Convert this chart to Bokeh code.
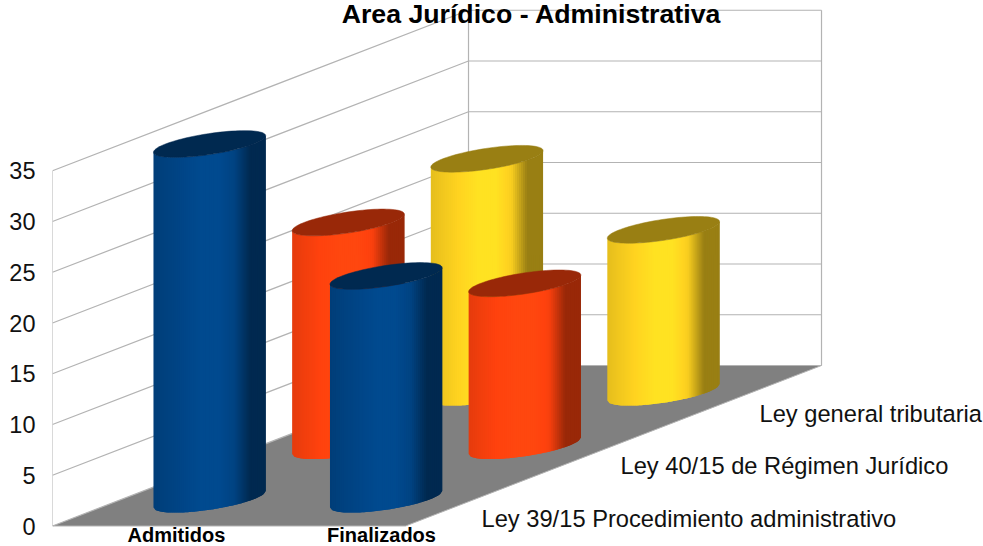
import numpy as np
from bokeh.plotting import figure
from bokeh.models import Range1d, FixedTicker
from bokeh.core.properties import value as V
from bokeh.embed import file_html
from bokeh.resources import INLINE

# ---- data
categories = ["Admitidos", "Finalizados"]
series_names = ["Ley 39/15 Procedimiento administrativo",
                "Ley 40/15 de Régimen Jurídico",
                "Ley general tributaria"]
ley_39 = [35, 22]
ley_40 = [22, 16]
ley_gen = [23, 16]
y_ticks = [0, 5, 10, 15, 20, 25, 30, 35]
colors = ["#004586", "#ff420e", "#ffd320"]
title_text = "Area Jurídico - Administrativa"

series_values = [ley_39, ley_40, ley_gen]

# ---- oblique projection of (category, depth, value) to plot coordinates
X0, CAT_W, DEPTH_X = 52.0, 176.5, 138.67
PX_PER_UNIT, DEPTH_Y = 10.15, 53.5 / 10.15
Y_MAX_AXIS = 35
N_DEPTH = 3
W, H = 983, 546
ZERO_PX = 525.5


def px(c, d):
    return X0 + CAT_W * np.asarray(c) + DEPTH_X * np.asarray(d)


def py(d, v):
    return np.asarray(v) + DEPTH_Y * np.asarray(d)


p = figure(width=W, height=H, output_backend="svg", toolbar_location=None,
           x_range=Range1d(X0, W),
           y_range=Range1d((ZERO_PX - H) / PX_PER_UNIT, ZERO_PX / PX_PER_UNIT),
           min_border_left=int(X0), min_border_right=0, min_border_top=0, min_border_bottom=0,
           margin=(0, 0, 0, 0), x_axis_location=None, outline_line_color=None,
           background_fill_color="white", border_fill_color="white")
p.grid.visible = False
p.yaxis.ticker = FixedTicker(ticks=y_ticks)
p.yaxis.axis_line_color = None
p.yaxis.major_tick_line_color = None
p.yaxis.minor_tick_line_color = None
p.yaxis.major_tick_out = 0
p.yaxis.major_tick_in = 0
p.yaxis.minor_tick_out = 0
p.yaxis.minor_tick_in = 0
p.yaxis.major_label_standoff = 17
p.yaxis.major_label_text_font = "Liberation Sans"
p.yaxis.major_label_text_font_size = "23.5px"
p.yaxis.major_label_text_color = "#111111"

WALL = "#b3b3b3"
# floor
p.patch(px([0, 2, 2, 0], [0, 0, N_DEPTH, N_DEPTH]), py([0, 0, N_DEPTH, N_DEPTH], [0, 0, 0, 0]),
        fill_color="#808080", line_color=None)
# walls and grid
for t in y_ticks:
    p.line(px([0, 0, 2], [0, N_DEPTH, N_DEPTH]), py([0, N_DEPTH, N_DEPTH], [t, t, t]),
           line_color=WALL, line_width=1.2)
p.line(px([0, 0], [0, 0]), py([0, 0], [0, Y_MAX_AXIS]), line_color=WALL, line_width=1)
p.line(px([0, 0], [N_DEPTH, N_DEPTH]), py([N_DEPTH, N_DEPTH], [0, Y_MAX_AXIS]), line_color=WALL, line_width=1.2)
p.line(px([2, 2], [N_DEPTH, N_DEPTH]), py([N_DEPTH, N_DEPTH], [0, Y_MAX_AXIS]), line_color=WALL, line_width=1.2)
p.line(px([0, 2, 2], [0, 0, N_DEPTH]), py([0, 0, N_DEPTH], [0, 0, 0]), line_color=WALL, line_width=1)

# cylinders
R_C, R_D = 0.25, 0.25
A, B, C = CAT_W * R_C, DEPTH_X * R_D, 53.5 * R_D / PX_PER_UNIT
T_R = np.arctan2(B, A)
N_STRIP = 56
STOPS_F = [0.0, 0.12, 0.42, 0.58, 0.72, 0.86, 1.0]
STOPS_M = [0.90, 0.95, 1.07, 1.07, 0.97, 0.60, 0.60]


def shade(hexcol, m):
    rgb = [int(hexcol[i:i + 2], 16) for i in (1, 3, 5)]
    return "#%02x%02x%02x" % tuple(min(255, int(round(ch * m))) for ch in rgb)


def ellipse(cx, cy, t):
    return cx + A * np.cos(t) + B * np.sin(t), cy + C * np.sin(t)


for d_idx in reversed(range(len(series_values))):
    for c_idx, val in enumerate(series_values[d_idx]):
        d = d_idx + 0.5
        cx = float(px(c_idx + 0.5, d)) - 0.5
        cy = float(py(d, 0))
        half = float(np.hypot(A, B))
        xs_grid = np.linspace(cx - half, cx + half, N_STRIP + 1)
        ang = np.arccos(np.clip((xs_grid - cx) / half, -1, 1))  # pi..0
        ts = T_R - ang  # runs from the left extreme through the front to the right extreme
        ex, ey = ellipse(cx, cy, ts)
        xs, ys, fills = [], [], []
        for i in range(N_STRIP):
            j = min(i + 2, N_STRIP)  # overlap the next strip so no seams show
            xs.append(list(ex[i:j + 1]) + list(ex[i:j + 1][::-1]))
            ys.append(list(ey[i:j + 1]) + list((ey[i:j + 1] + val)[::-1]))
            f = (i + 0.5) / N_STRIP
            fills.append(shade(colors[d_idx], float(np.interp(f, STOPS_F, STOPS_M))))
        p.patches(xs, ys, fill_color=fills, line_color=None)
        tt = np.linspace(0, 2 * np.pi, 90)
        tx, ty = ellipse(cx, cy + val, tt)
        p.patch(tx, ty, fill_color=shade(colors[d_idx], 0.6), line_color=shade(colors[d_idx], 0.6), line_width=0.5)


def ypx(pixel):
    return (ZERO_PX - pixel) / PX_PER_UNIT


# texts
p.text([531], [ypx(13)], text=[title_text], text_font=V("Liberation Sans"), text_font_style="bold",
       text_font_size="26.7px", text_align="center", text_baseline="middle", text_color="#000000")
p.text([176, 381], [ypx(534), ypx(534.5)], text=categories, text_font=V("Liberation Sans"), text_font_style="bold",
       text_font_size="20px", text_align="center", text_baseline="middle", text_color="#000000")
p.text([481, 620, 759], [ypx(518), ypx(465), ypx(413)], text=series_names, text_font=V("Liberation Sans"),
       text_font_size="23.7px", text_align="left", text_baseline="middle", text_color="#111111")

open("out.html", "w").write(file_html(p, INLINE))
